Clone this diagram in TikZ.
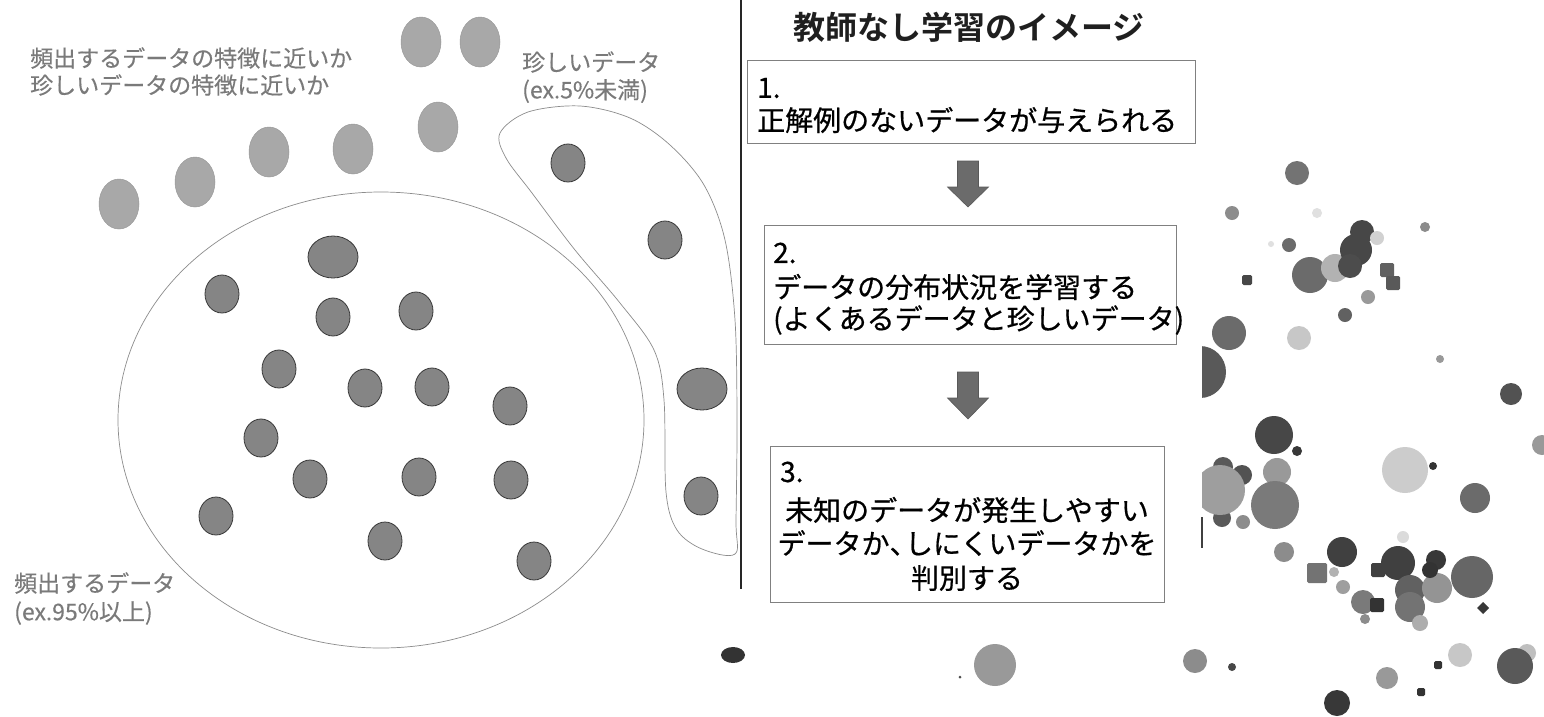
\documentclass[tikz,border=0pt]{standalone}
\usepackage{fontspec}
\setmainfont{Noto Sans CJK JP}[BoldFont={Noto Sans CJK JP Bold}]
\newfontfamily\jpmed{Noto Sans CJK JP}[FakeBold=0.6]
\newfontfamily\jpgray{Noto Sans CJK JP}[FakeBold=0.3]
\newcommand\halfcomma{\makebox[0.55em][l]{、}}
\begin{document}
\begin{tikzpicture}[x=1pt,y=-1pt,
  graytext/.style={inner sep=0pt,anchor=west,text=black!52,font=\jpgray\fontsize{23}{27}\selectfont},
  bodytext/.style={inner sep=0pt,anchor=west,text=black,font=\jpmed\fontsize{28}{33}\selectfont},
  ctrtext/.style={inner sep=0pt,anchor=center,text=black,font=\jpmed\fontsize{28}{33}\selectfont},
  stepbox/.style={draw=black!50,line width=0.9pt,inner sep=0pt},
  lightdot/.style={fill=black!34,draw=black!40,line width=0.5pt},
  darkdot/.style={fill=black!48,draw=black!78,line width=0.8pt},
  outline/.style={draw=black!45,line width=0.7pt},
  blockarrow/.style={fill=black!58,draw=black!65,line width=0.6pt}]
\useasboundingbox (0,0) rectangle (1544,716);
\fill[white] (0,0) rectangle (1544,716);

% ---------- left half ----------
\node[graytext] (q1) at (30,58) {頻出するデータの特徴に近いか};
\node[graytext] (q2) at (30,85) {珍しいデータの特徴に近いか};
\node[graytext] (rareA) at (522,62) {珍しいデータ};
\node[graytext] (rareB) at (522,91) {(ex.5\%未満)};
\node[graytext] (freqA) at (14,583) {頻出するデータ};
\node[graytext] (freqB) at (14,613) {(ex.95\%以上)};

% big ellipse (frequent data)
\draw[outline] (381,420) ellipse [x radius=263, y radius=228];
% rare region outline
\draw[outline] plot[smooth cycle,tension=0.55] coordinates {
 (500,133) (528,112) (580,106) (630,118) (670,145) (704,185) (725,240)
 (735,320) (737,420) (736,520) (735,554) (702,549) (677,530) (666,492)
 (664,400) (654,350) (620,303) (575,250) (532,193) (506,158)};

% light (unknown) data
\foreach \px/\py in {421/42,480/42,119/204,195/182,269/152,353/149,438/127}
  \fill[lightdot] (\px,\py) ellipse [x radius=20, y radius=25];

% frequent data
\fill[darkdot] (333,257) ellipse [x radius=25, y radius=21];
\foreach \px/\py in {222/294,333/317,416/311,279/369,365/388,432/387,510/406,
  261/438,310/479,419/477,511/480,216/516,385/541,534/561}
  \fill[darkdot] (\px,\py) ellipse [x radius=17, y radius=19];

% rare data
\fill[darkdot] (568,163) ellipse [x radius=17, y radius=19];
\fill[darkdot] (665,240) ellipse [x radius=17, y radius=19];
\fill[darkdot] (702,389) ellipse [x radius=25, y radius=21];
\fill[darkdot] (701,496) ellipse [x radius=17, y radius=19];

% divider
\draw[line width=1.8pt,black!85] (741,0) -- (741,589);

% ---------- flow ----------
\node[inner sep=0pt,font=\fontsize{32}{36}\selectfont\bfseries,text=black!88] (title) at (969,27) {教師なし学習のイメージ};

\node[stepbox,minimum width=448,minimum height=83] (b1) at (971,101.5) {};
\node[bodytext] (b1n) at (757,88) {1.};
\node[bodytext] (b1t) at (757,120) {正解例のないデータが与えられる};

\node[stepbox,minimum width=412,minimum height=119] (b2) at (970,284.5) {};
\node[bodytext] (b2n) at (773,253) {2.};
\node[bodytext] (b2t) at (773,287) {データの分布状況を学習する};
\node[bodytext] (b2u) at (773,320) {(よくあるデータと珍しいデータ)};

\node[stepbox,minimum width=394,minimum height=156] (b3) at (967,524) {};
\node[bodytext] (b3n) at (780,472) {3.};
\node[ctrtext] (b3t) at (967,510) {未知のデータが発生しやすい};
\node[ctrtext] (b3u) at (967,543) {データか\halfcomma しにくいデータかを};
\node[ctrtext] (b3v) at (967,578) {判別する};

% block arrows
\fill[blockarrow] (957.5,161) -- (978.5,161) -- (978.5,187) -- (988.5,187)
  -- (968,207) -- (947.5,187) -- (957.5,187) -- cycle;
\fill[blockarrow] (957.5,372) -- (978.5,372) -- (978.5,398) -- (988.5,398)
  -- (968,419) -- (947.5,398) -- (957.5,398) -- cycle;

% ---------- scatter of data (right) ----------
\foreach \px/\py/\r/\k in {
 1297/173/12/55, 1232/213/7/45, 1317/213/5/12, 1425/227/5/45, 1271/244/3/12,
 1289/245/7/58, 1310/275/18/58, 1335/268/14/30, 1362/232/12/72, 1356/250/16/72,
 1350/266/12/70, 1377/238/7/18, 1368/297/7/40, 1345/315/7/62, 1229/333/17/58,
 1299/338/12/22, 1440/359/4/40, 1511/394/11/68, 1274/435/19/72, 1297/451/5/78,
 1223/467/10/65, 1242/475/10/68, 1222/518/9/65, 1243/522/7/45,
 1277/472/14/40, 1275/505/24/52, 1405/470/23/20, 1433/466/4/80, 1475/498/15/58,
 1403/537/6/14, 1284/552/10/45, 1342/552/15/75, 1334/572/5/30, 1343/587/7/38,
 1398/563/17/75, 1436/560/10/78, 1472/577/21/60, 1410/590/15/62, 1437/588/15/42,
 1430/570/8/80, 1410/607/15/55, 1420/623/8/32, 1363/602/12/52, 1365/619/5/45,
 1195/661/12/45, 1232/667/4/72, 1387/678/11/40, 1527/653/9/25, 1460/655/12/22,
 1515/666/18/65, 1337/703/13/78, 995/665/21/40, 960/677/1.5/70}
  \fill[black!\k] (\px,\py) circle [radius=\r];
\foreach \px/\py/\s/\k in {1387/270/14/62, 1393/283/14/65, 1247/280/10/72,
 1317/573/20/55, 1378/570/14/75, 1377/605/14/80, 1438/665/8/80, 1421/692/8/80}
  \fill[black!\k,rounded corners=1.5pt] (\px-\s/2,\py-\s/2) rectangle (\px+\s/2,\py+\s/2);
\fill[black!78] (1483,602) -- (1489,608) -- (1483,614) -- (1477,608) -- cycle;
\begin{scope}
  \clip (1202,300) rectangle (1260,560);
  \fill[black!65] (1200,372) circle [radius=26];
  \fill[black!38] (1220,490) circle [radius=25];
\end{scope}
\fill[black!75] (1200.5,517) rectangle (1203,548);
\fill[black!40] (1542,445) circle [radius=10];
\fill[black!80] (733,655) ellipse [x radius=12, y radius=8];
\end{tikzpicture}
\end{document}
